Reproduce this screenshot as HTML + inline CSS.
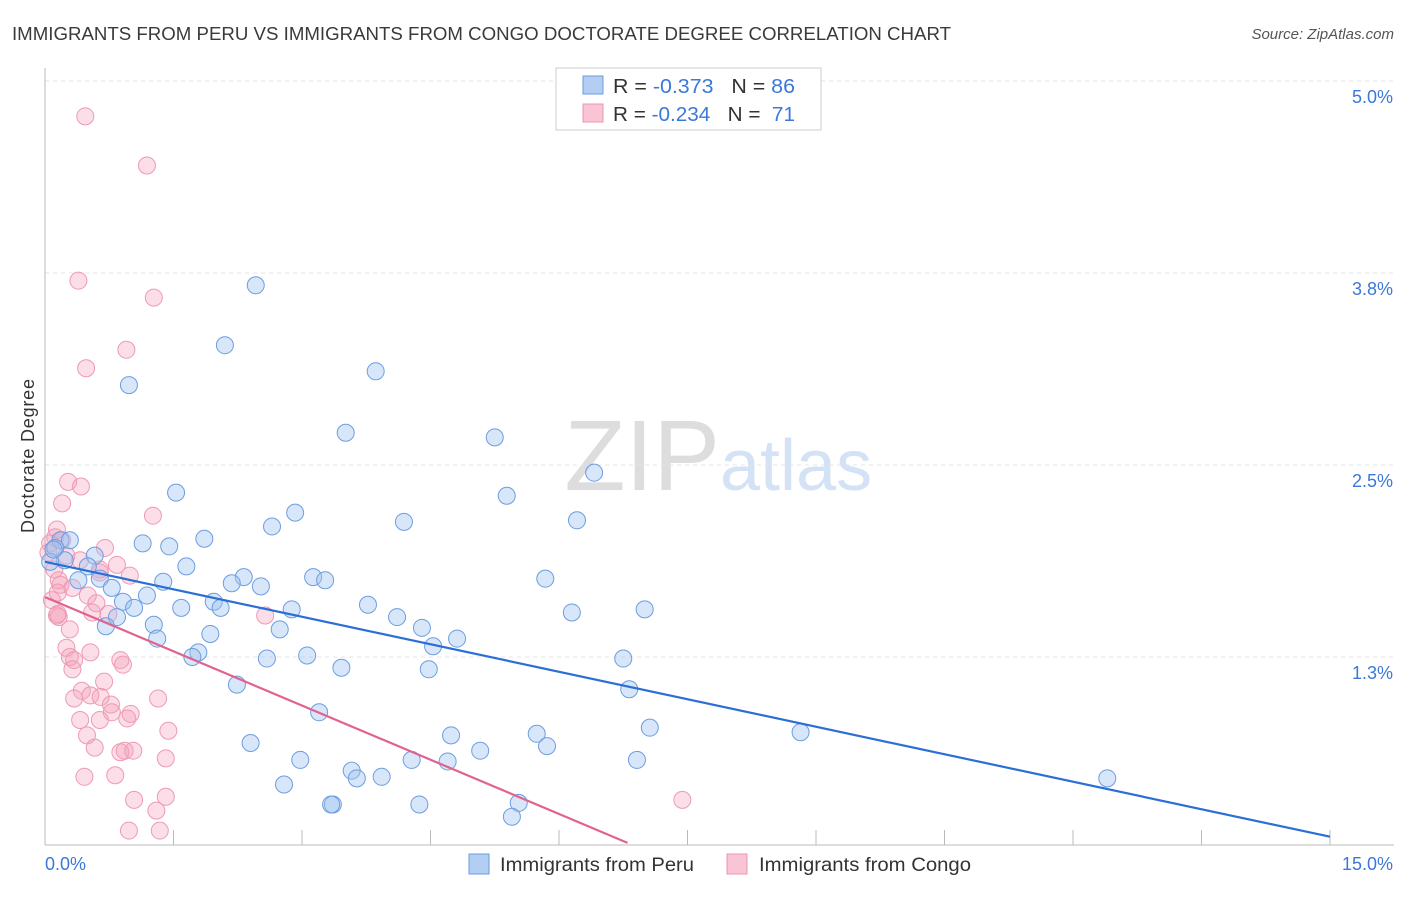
<!DOCTYPE html>
<html><head><meta charset="utf-8"><style>
body{margin:0;background:#fff;font-family:"Liberation Sans",sans-serif;}
svg text{font-family:"Liberation Sans",sans-serif;}
</style></head><body>
<svg id="c" width="1406" height="892">
<text x="12" y="40" font-size="18" fill="#3a3a3a" textLength="939" lengthAdjust="spacingAndGlyphs">IMMIGRANTS FROM PERU VS IMMIGRANTS FROM CONGO DOCTORATE DEGREE CORRELATION CHART</text>
<text x="1394" y="39" font-size="15" fill="#555" font-style="italic" text-anchor="end">Source: ZipAtlas.com</text>
<text x="34" y="456" font-size="18" fill="#333" text-anchor="middle" transform="rotate(-90 34 456)" textLength="154">Doctorate Degree</text>
<text x="720" y="490" font-size="100" fill="#ddd" text-anchor="end" font-family="Liberation Serif">ZIP</text>
<text x="720" y="490" font-size="72" fill="#d4e2f5">atlas</text>
<g id="grid"></g><g id="pts"></g><g id="lines"></g>
<g>
<rect x="556" y="68" width="265" height="62" fill="#fff" stroke="#ccc"/>
<rect x="583" y="76" width="20" height="18" fill="#b3cef3" stroke="#6a9be0"/>
<rect x="583" y="104" width="20" height="18" fill="#f9c5d4" stroke="#ec94ae"/>
<text x="613" y="93" font-size="20" fill="#333" textLength="182" lengthAdjust="spacingAndGlyphs">R = <tspan fill="#3b78d8">-0.373</tspan>&#160;&#160;&#160;N = <tspan fill="#3b78d8">86</tspan></text>
<text x="613" y="121" font-size="20" fill="#333" textLength="182" lengthAdjust="spacingAndGlyphs">R = <tspan fill="#3b78d8">-0.234</tspan>&#160;&#160;&#160;N = &#160;<tspan fill="#3b78d8">71</tspan></text>
</g>
<g>
<rect x="469" y="854" width="20" height="20" fill="#b3cef3" stroke="#6a9be0"/>
<text x="500" y="871" font-size="19" fill="#333" textLength="194" lengthAdjust="spacingAndGlyphs">Immigrants from Peru</text>
<rect x="727" y="854" width="20" height="20" fill="#f9c5d4" stroke="#ec94ae"/>
<text x="759" y="871" font-size="19" fill="#333" textLength="212" lengthAdjust="spacingAndGlyphs">Immigrants from Congo</text>
</g>
</svg>
<script>
const yTicks=[5.0,3.75,2.5,1.25];
const yTickLabels=["5.0%","3.8%","2.5%","1.3%"];
const xTickCount=11;
const peruX=[2.46,2.10,0.98,3.86,3.51,5.25,6.41,1.53,5.39,2.92,2.65,4.19,6.21,1.86,1.14,1.45,0.18,0.29,0.12,0.58,0.23,0.06,1.65,0.50,0.64,0.39,0.78,1.38,2.32,2.18,2.52,3.13,3.27,5.84,0.91,1.19,1.04,1.59,1.97,2.05,2.88,3.77,4.11,6.15,7.00,0.84,0.71,1.27,1.31,2.74,4.40,4.81,1.93,4.53,1.79,1.72,2.59,3.06,6.75,3.46,4.48,2.24,6.82,3.20,7.06,8.82,4.74,5.74,2.40,5.86,5.08,2.98,4.28,4.70,6.91,3.58,3.93,3.64,2.79,12.40,3.36,4.37,5.53,5.45,3.34,0.10];
const peruY=[3.67,3.28,3.02,3.11,2.71,2.68,2.45,2.32,2.30,2.19,2.10,2.13,2.14,2.02,1.99,1.97,2.01,2.01,1.96,1.91,1.88,1.87,1.84,1.84,1.76,1.75,1.70,1.74,1.77,1.73,1.71,1.77,1.75,1.76,1.61,1.65,1.57,1.57,1.61,1.57,1.56,1.59,1.51,1.54,1.56,1.51,1.45,1.46,1.37,1.43,1.44,1.37,1.40,1.32,1.28,1.25,1.24,1.26,1.24,1.18,1.17,1.07,1.04,0.89,0.79,0.76,0.74,0.75,0.69,0.67,0.64,0.58,0.58,0.57,0.58,0.51,0.47,0.46,0.42,0.46,0.29,0.29,0.30,0.21,0.29,1.95];
const congoX=[0.47,1.19,0.39,1.27,0.95,0.48,0.27,0.42,0.20,1.26,0.14,0.12,0.06,0.04,0.70,0.25,0.84,0.11,0.16,0.64,0.32,0.50,0.18,0.60,0.08,0.74,0.15,0.16,0.25,0.29,0.34,0.32,0.53,0.88,0.91,0.69,0.15,0.43,0.34,0.53,0.65,0.77,0.78,1.00,0.41,0.64,0.96,1.32,1.44,0.49,0.58,0.88,0.93,1.03,1.41,0.46,0.82,1.04,1.41,1.30,0.98,1.34,7.44,2.57,0.14,0.29,0.55,0.99,0.20,0.64,0.41];
const congoY=[4.77,4.45,3.70,3.59,3.25,3.13,2.39,2.36,2.25,2.17,2.08,2.03,1.99,1.93,1.96,1.91,1.85,1.82,1.75,1.80,1.70,1.65,1.72,1.60,1.62,1.53,1.53,1.51,1.31,1.25,1.23,1.17,1.28,1.23,1.20,1.09,1.67,1.03,0.98,1.00,0.99,0.94,0.89,0.88,0.84,0.84,0.85,0.98,0.77,0.74,0.66,0.63,0.64,0.64,0.59,0.47,0.48,0.32,0.34,0.25,0.12,0.12,0.32,1.52,1.52,1.43,1.54,1.78,2.01,1.82,1.88];
const peruTrend=[1.87,0.08];
const congoTrend=[1.64,0.04];
const congoTrendEndX=6.8;
const NS="http://www.w3.org/2000/svg";
const X0=45,X1=1330,Y0=849,PXPER=153.6;
function sx(v){return X0+v/15*(X1-X0);}
function sy(v){return Y0-v*PXPER;}
function mk(t,a,p){const e=document.createElementNS(NS,t);for(const k in a)e.setAttribute(k,a[k]);p.appendChild(e);return e;}
const grid=document.getElementById('grid');
yTicks.forEach((t,i)=>{
 const l=mk('line',{x1:X0,x2:1394,y1:sy(t),y2:sy(t),stroke:'#e4e4e4','stroke-dasharray':'4 4'},grid);
 
 
 const tx=mk('text',{x:1393,y:sy(t)+22,'font-size':18,fill:'#3b78d8','text-anchor':'end'},grid);
 tx.textContent=yTickLabels[i];
 
 
});
const ax=mk('line',{x1:X0,x2:X0,y1:68,y2:845,stroke:'#bbb'},grid);


const bx=mk('line',{x1:X0,x2:1394,y1:845,y2:845,stroke:'#bbb'},grid);


for(let i=0;i<xTickCount;i++){
 const xv=i*15/(xTickCount-1);
 const t=mk('line',{x1:sx(xv),x2:sx(xv),y1:830,y2:845,stroke:'#bbb'},grid);
 
 
}
const xl=mk('text',{x:45,y:870,'font-size':18,fill:'#3b78d8'},grid);xl.textContent='0.0%';


const xr=mk('text',{x:1393,y:870,'font-size':18,fill:'#3b78d8','text-anchor':'end'},grid);xr.textContent='15.0%';


const pts=document.getElementById('pts');
congoX.forEach((x,i)=>{
 const c=mk('circle',{cx:sx(x),cy:sy(congoY[i]),r:8.5,fill:'rgba(244,160,185,0.35)',stroke:'#ef9ab4','stroke-width':1},pts);
 
 
});
peruX.forEach((x,i)=>{
 const c=mk('circle',{cx:sx(x),cy:sy(peruY[i]),r:8.5,fill:'rgba(160,195,240,0.42)',stroke:'#6d9de0','stroke-width':1},pts);
 
 
});
const lines=document.getElementById('lines');
const pl=mk('line',{x1:sx(0),y1:sy(peruTrend[0]),x2:sx(15),y2:sy(peruTrend[1]),stroke:'#2b6fd6','stroke-width':2.2},lines);


const cl=mk('line',{x1:sx(0),y1:sy(congoTrend[0]),x2:sx(congoTrendEndX),y2:sy(congoTrend[1]),stroke:'#e0638f','stroke-width':2.2},lines);


</script>
</body></html>
